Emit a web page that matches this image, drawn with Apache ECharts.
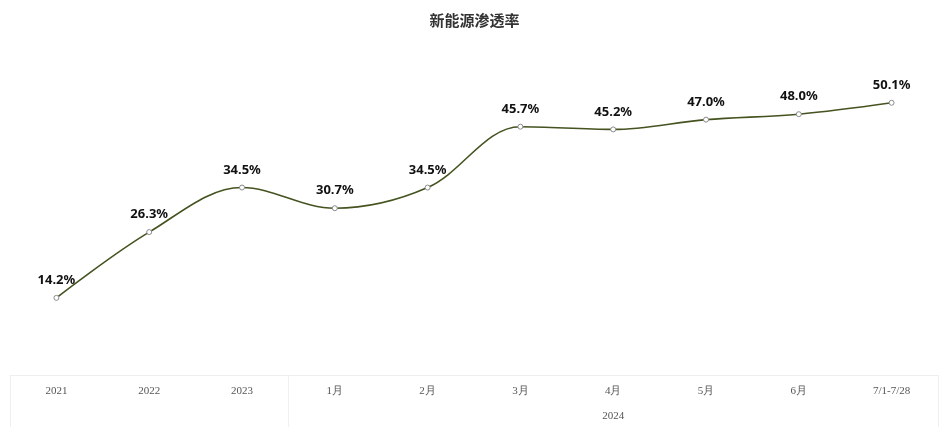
<!DOCTYPE html>
<html>
<head>
<meta charset="utf-8">
<style>
	html, body { margin: 0; padding: 0; background: #fff; }
	#chart { width: 949px; height: 428px; }
</style>
<script src="https://cdn.jsdelivr.net/npm/echarts@6/dist/echarts.min.js"></script>
</head>
<body>
<div id="chart"></div>
<script>
var categories = ['2021', '2022', '2023', '1月', '2月', '3月', '4月', '5月', '6月', '7/1-7/28'];
var groupLabels = ['', '', '', '', '', '', '2024', '', '', ''];
var penetration = [14.2, 26.3, 34.5, 30.7, 34.5, 45.7, 45.2, 47.0, 48.0, 50.1];

var myChart = echarts.init(document.getElementById('chart'));

var option = {
	title: {
		text: '新能源渗透率',
		left: 'center',
		top: 8,
		textStyle: {
			fontSize: 15,
			fontWeight: 'bold',
			color: '#333',
			fontFamily: 'Noto Sans CJK SC'
		}
	},
	grid: {
		left: 10,
		right: 11,
		top: 49,
		bottom: 53
	},
	xAxis: [{
		type: 'category',
		data: categories,
		boundaryGap: true,
		position: 'bottom',
		axisLine: {
			show: true,
			lineStyle: { color: '#eeeeee', width: 1 }
		},
		axisTick: {
			show: true,
			length: 52,
			interval: function(index) {
				return index === 0 || index === 3;
			},
			lineStyle: { color: '#f0f0f0' }
		},
		axisLabel: {
			margin: 11,
			fontSize: 11,
			color: '#555',
			fontFamily: 'Liberation Serif'
		},
		splitLine: { show: false }
	}, {
		type: 'category',
		data: groupLabels,
		boundaryGap: true,
		position: 'bottom',
		offset: 26,
		axisLine: { show: false },
		axisTick: { show: false },
		axisLabel: {
			interval: 0,
			margin: 10,
			fontSize: 11,
			color: '#555',
			fontFamily: 'Liberation Serif'
		}
	}],
	yAxis: {
		type: 'value',
		min: 0,
		max: 60,
		show: false
	},
	series: [{
		name: '渗透率',
		type: 'line',
		data: penetration,
		smooth: 0.35,
		symbol: 'circle',
		symbolSize: 5,
		showSymbol: true,
		lineStyle: {
			color: '#44531f',
			width: 1.6
		},
		itemStyle: {
			color: '#ffffff',
			borderColor: '#8a8a8a',
			borderWidth: 1
		},
		label: {
			show: true,
			position: 'top',
			distance: 8,
			fontSize: 13,
			fontWeight: 'bold',
			color: '#111',
			fontFamily: 'Noto Sans',
			formatter: function(p) {
				return p.value.toFixed(1) + '%';
			}
		}
	}]
};

myChart.setOption(option);
</script>
</body>
</html>
